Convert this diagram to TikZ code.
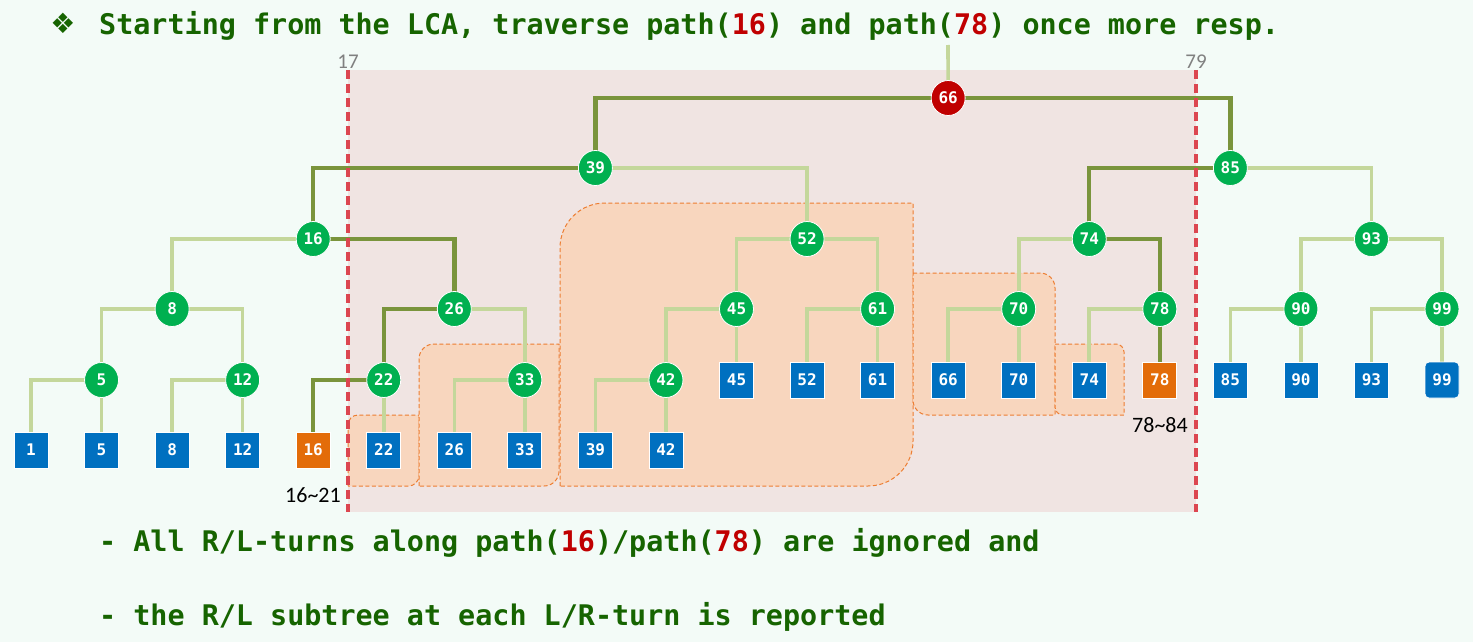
\documentclass[tikz,border=0pt]{standalone}
\usepackage{fontspec}
\setmonofont{DejaVu Sans Mono}
\newfontfamily\calfont{Carlito}
\newfontfamily\symfont{DejaVu Sans}
\usetikzlibrary{shapes.geometric,positioning}
\pgfdeclarelayer{back}
\pgfdeclarelayer{mid}
\pgfsetlayers{back,mid,main}

\definecolor{paper}{RGB}{243,251,247}
\definecolor{zone}{RGB}{240,228,226}
\definecolor{subfill}{RGB}{248,214,190}
\definecolor{subline}{RGB}{237,125,49}
\definecolor{cutred}{RGB}{220,70,80}
\definecolor{nodegreen}{RGB}{0,176,80}
\definecolor{lcared}{RGB}{192,0,0}
\definecolor{leafblue}{RGB}{0,112,192}
\definecolor{hitorange}{RGB}{227,108,9}
\definecolor{twiggreen}{RGB}{196,215,155}
\definecolor{routegreen}{RGB}{122,148,60}
\definecolor{saygreen}{RGB}{22,100,0}

\tikzset{
  inode/.style={ellipse,fill=nodegreen,draw=white,line width=.8pt,minimum width=34pt,minimum height=35pt,inner sep=0pt,text=white,font=\fontsize{16}{16}\selectfont\ttfamily\bfseries},
  leaf/.style={rectangle,fill=leafblue,draw=white,line width=.8pt,minimum width=34pt,minimum height=36pt,inner sep=0pt,text=white,font=\fontsize{16}{16}\selectfont\ttfamily\bfseries},
  twig/.style={draw=twiggreen,line width=3.6pt},
  route/.style={draw=routegreen,line width=4.4pt},
  subtree/.style={fill=subfill,draw=subline,line width=1pt,dash pattern=on 4pt off 2.5pt},
  cut/.style={draw=cutred,line width=3.4pt,dash pattern=on 9pt off 5pt},
  bound/.style={text=gray,font=\calfont\fontsize{21}{21}\selectfont,anchor=base,inner sep=0pt},
  spanlabel/.style={text=black,font=\calfont\fontsize{22}{22}\selectfont,inner sep=0pt},
  say/.style={text=saygreen,font=\frenchspacing\fontsize{28.4}{34}\selectfont\ttfamily\bfseries,anchor=base west,inner sep=0pt}
}
\newcommand{\hl}[1]{\textcolor{lcared}{#1}}

\begin{document}
\begin{tikzpicture}[x=1pt,y=-1pt]
\useasboundingbox (0,0) rectangle (1473,642);

\node[text=saygreen,font=\symfont\fontsize{28}{28}\selectfont] (mark) at (63,23) {❖};
\node[say] (head) at (99,35) {Starting from the LCA, traverse path(\hl{16}) and path(\hl{78}) once more resp.};

\begin{pgfonlayer}{back}
\fill[paper] (0,0) rectangle (1473,642);
\fill[zone] (348,70) rectangle (1196,512);
\draw[subtree] (348,486) -- (348,425) .. controls (348,419.5) and (352.5,415) .. (358,415) -- (419,415)
  -- (419,476) .. controls (419,481.5) and (413.5,486) .. (409,486) -- cycle;
\draw[subtree] (419,486) -- (419,359) .. controls (419,350.7) and (425.7,344) .. (434,344) -- (559,344)
  -- (559,471) .. controls (559,479.3) and (552.3,486) .. (544,486) -- cycle;
\draw[subtree] (560,486) -- (560,248) .. controls (560,223) and (580,203) .. (605,203) -- (913,203)
  -- (913,441) .. controls (913,466) and (893,486) .. (868,486) -- cycle;
\draw[subtree] (913,273) -- (1040,273) .. controls (1048.3,273) and (1055,279.7) .. (1055,288) -- (1055,415)
  -- (928,415) .. controls (919.7,415) and (913,408.3) .. (913,400) -- cycle;
\draw[subtree] (1055,344) -- (1116,344) .. controls (1120.4,344) and (1124,347.6) .. (1124,352) -- (1124,415)
  -- (1063,415) .. controls (1058.6,415) and (1055,411.4) .. (1055,407) -- cycle;
\end{pgfonlayer}

% leaves
\foreach \k/\c in {1/0,5/1,8/2,12/3,22/5,26/6,33/7,39/8,42/9}
  \node[leaf] (l\k) at ({31+70.55*\c},450) {\k};
\foreach \k/\c in {45/10,52/11,61/12,66/13,70/14,74/15,85/17,90/18,93/19}
  \node[leaf] (l\k) at ({31+70.55*\c},380) {\k};
\node[leaf,fill=hitorange] (l16) at ({31+70.55*4},450) {16};
\node[leaf,fill=hitorange] (l78) at ({31+70.55*16},380) {78};
\node[leaf,rounded corners=4pt] (l99) at ({31+70.55*20},380) {99};

% internal nodes
\foreach \k/\c/\r in {5/1/380,12/3/380,22/5/380,33/7/380,42/9/380,
    8/2/309,26/6/309,45/10/309,61/12/309,70/14/309,78/16/309,90/18/309,99/20/309,
    16/4/239,52/11/239,74/15/239,93/19/239,39/8/168,85/17/168}
  \node[inode] (n\k) at ({31+70.55*\c},\r) {\k};
\node[inode,fill=lcared] (n66) at ({31+70.55*13},98) {66};
\coordinate (root) at (948,45);

\begin{pgfonlayer}{mid}
\foreach \p/\q in {n16/n8,n8/n5,n8/n12,n5/l1,n5/l5,n12/l8,n12/l12,n26/n33,n22/l22,n33/l26,n33/l33,
    n39/n52,n52/n45,n52/n61,n45/n42,n45/l45,n42/l39,n42/l42,n61/l52,n61/l61,
    n85/n93,n74/n70,n70/l66,n70/l70,n78/l74,n93/n90,n93/n99,n90/l85,n90/l90,n99/l93,n99/l99}
  \draw[twig] (\p.center) -| (\q.center);
\foreach \p/\q in {n66/n39,n66/n85,n39/n16,n16/n26,n26/n22,n22/l16,n85/n74,n74/n78,n78/l78}
  \draw[route] (\p.center) -| (\q.center);
\draw[twig] (root) -- (n66.center);
\end{pgfonlayer}

\coordinate (lo) at (348,70);
\coordinate (hi) at (1196,70);
\draw[cut] (lo) -- (348,512);
\draw[cut] (hi) -- (1196,512);
\node[bound] (lolabel) at (348,69) {17};
\node[bound] (hilabel) at (1196,69) {79};

\node[spanlabel] (lorange) at (313,495) {16\textasciitilde21};
\node[spanlabel] (hirange) at (1160,425) {78\textasciitilde84};

\node[say] (turns) at (99,551) {- All R/L-turns along path(\hl{16})/path(\hl{78}) are ignored and};
\node[say] (report) at (99,625) {- the R/L subtree at each L/R-turn is reported};
\end{tikzpicture}
\end{document}
